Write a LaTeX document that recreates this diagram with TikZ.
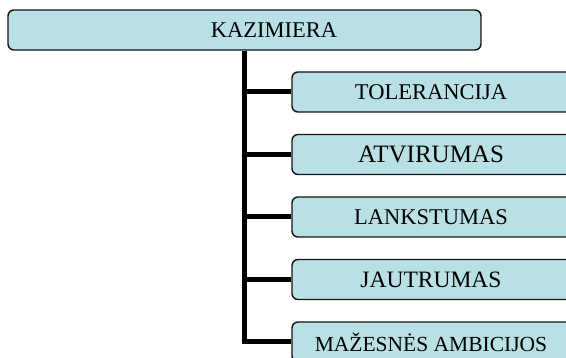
\documentclass[tikz,border=0pt]{standalone}
\usepackage{fontspec}
\setmainfont{Liberation Serif}
\definecolor{boxfill}{RGB}{185,224,228}
\definecolor{boxline}{RGB}{20,20,20}
\begin{document}
\begin{tikzpicture}[x=1pt,y=-1pt,
  box/.style={draw=boxline, line width=1.4pt, fill=boxfill, rounded corners=6pt,
    minimum height=40pt, inner sep=0pt, text=black},
  child/.style={box, minimum width=300pt},
  trunk/.style={line width=5pt, black, line join=miter}]
\useasboundingbox (0,0) rectangle (566,358);
\clip (0,0) rectangle (566,358);
\node[box, minimum width=473pt, font=\fontsize{22.5}{26}\selectfont] (root) at (244.5,30) {\hspace*{59pt}KAZIMIERA};
\node[child, font=\fontsize{22.5}{26}\selectfont] (c1) at (442,92) {TOLERANCIJA\hspace*{22pt}};
\node[child, font=\fontsize{25}{28}\selectfont] (c2) at (442,154.5) {ATVIRUMAS\hspace*{22pt}};
\node[child, font=\fontsize{22.5}{26}\selectfont] (c3) at (442,217) {LANKSTUMAS\hspace*{22pt}};
\node[child, font=\fontsize{23.5}{27}\selectfont] (c4) at (442,279.5) {JAUTRUMAS\hspace*{22pt}};
\node[child, font=\fontsize{21.5}{25}\selectfont] (c5) at (442,342) {MAŽESNĖS AMBICIJOS\hspace*{22pt}};
\draw[trunk] (root.south) |- (c5.west);
\foreach \c in {c1,c2,c3,c4}{
  \draw[trunk] (root.south |- \c.west) -- (\c.west);
}
\end{tikzpicture}
\end{document}
